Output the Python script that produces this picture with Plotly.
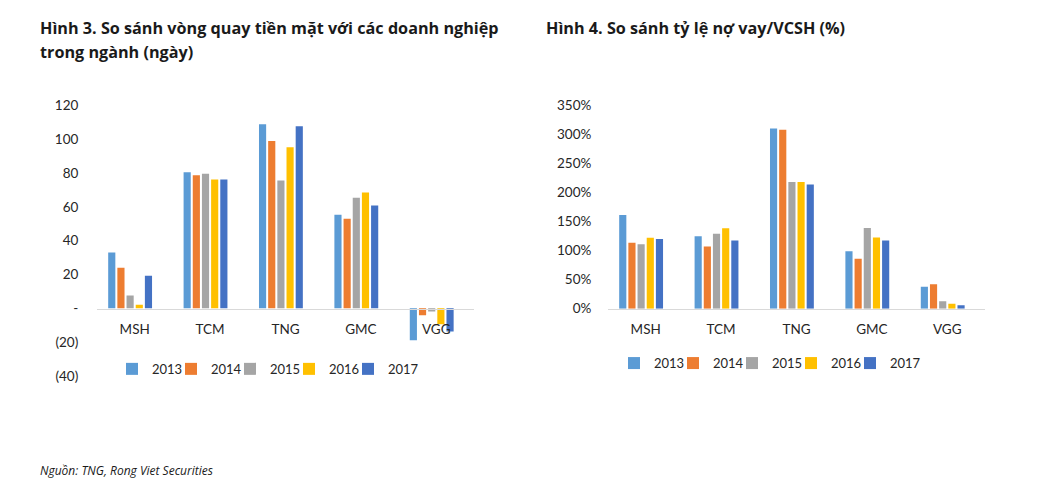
import plotly.graph_objects as go

W, H = 1061, 494

companies = ["MSH", "TCM", "TNG", "GMC", "VGG"]
years = ["2013", "2014", "2015", "2016", "2017"]
colors = ["#5B9BD5", "#ED7D31", "#A5A5A5", "#FFC000", "#4472C4"]

# Figure 3: cash conversion cycle (days)
ccc_2013 = [33, 80.5, 109, 55.3, -19]
ccc_2014 = [24, 78.8, 99, 53, -4.2]
ccc_2015 = [7.6, 79.6, 75.6, 65.5, -1.9]
ccc_2016 = [2.1, 76.3, 95.3, 68.5, -9.5]
ccc_2017 = [19.2, 76.3, 107.8, 60.8, -13.7]
ccc = [ccc_2013, ccc_2014, ccc_2015, ccc_2016, ccc_2017]

# Figure 4: debt / equity (%)
de_2013 = [161, 124.6, 310, 99, 37.7]
de_2014 = [113.5, 106.9, 308, 85.8, 42]
de_2015 = [111, 129, 218, 139, 12.7]
de_2016 = [122, 138.5, 218, 122.4, 8.3]
de_2017 = [120, 117.4, 213.8, 117.4, 6]
de = [de_2013, de_2014, de_2015, de_2016, de_2017]

left_tickvals = [-40, -20, 0, 20, 40, 60, 80, 100, 120]
left_ticktext = ["(40)", "(20)", "-", "20", "40", "60", "80", "100", "120"]
right_tickvals = [0, 50, 100, 150, 200, 250, 300, 350]
right_ticktext = ["0%", "50%", "100%", "150%", "200%", "250%", "300%", "350%"]

FONT = "Lato"
TXT = "#262626"

fig = go.Figure()
for i, y in enumerate(years):
    fig.add_trace(go.Bar(x=companies, y=ccc[i], name=y,
                         marker=dict(color=colors[i], line=dict(width=0)),
                         xaxis="x", yaxis="y", legend="legend"))
# spacer entry so the last legend label is not clipped
fig.add_trace(go.Bar(x=[None], y=[None], name=" ",
                     marker=dict(color="rgba(0,0,0,0)", line=dict(width=0)),
                     xaxis="x", yaxis="y", legend="legend", hoverinfo="skip"))
for i, y in enumerate(years):
    fig.add_trace(go.Bar(x=companies, y=de[i], name=y,
                         marker=dict(color=colors[i], line=dict(width=0)),
                         xaxis="x2", yaxis="y2", legend="legend2"))
fig.add_trace(go.Bar(x=[None], y=[None], name=" ",
                     marker=dict(color="rgba(0,0,0,0)", line=dict(width=0)),
                     xaxis="x2", yaxis="y2", legend="legend2", hoverinfo="skip"))

def py(px):
    return 1 - px / H

def pxx(px):
    return px / W

TICKF = dict(size=13.5, color=TXT)
fig.update_layout(
    width=W, height=H,
    margin=dict(l=0, r=0, t=0, b=0),
    paper_bgcolor="white", plot_bgcolor="white",
    barmode="group", bargap=0.27, bargroupgap=0.22,
    font=dict(family=FONT, size=13, color=TXT),
    xaxis=dict(domain=[pxx(97), pxx(474)], anchor="free", position=py(311),
               showline=True, linecolor="#d9d9d9", linewidth=1,
               ticks="outside", ticklen=8, tickcolor="rgba(0,0,0,0)",
               tickfont=TICKF, showgrid=False),
    yaxis=dict(domain=[py(381), py(100)], range=[-40.5, 120.5], anchor="x",
               tickvals=left_tickvals, ticktext=left_ticktext,
               showgrid=False, zeroline=False, showline=False,
               ticks="outside", ticklen=15, tickcolor="rgba(0,0,0,0)",
               tickfont=TICKF),
    xaxis2=dict(domain=[pxx(608), pxx(985)], anchor="y2",
                showline=True, linecolor="#d9d9d9", linewidth=1,
                ticks="outside", ticklen=8, tickcolor="rgba(0,0,0,0)",
                tickfont=TICKF, showgrid=False),
    yaxis2=dict(domain=[py(310.7), py(100)], range=[0, 351], anchor="x2",
                tickvals=right_tickvals, ticktext=right_ticktext,
                showgrid=False, zeroline=False, showline=False,
                ticks="outside", ticklen=13, tickcolor="rgba(0,0,0,0)",
                tickfont=TICKF),
    legend=dict(orientation="h", x=pxx(112), y=py(373), xanchor="left", yanchor="middle",
                font=dict(size=13, color=TXT), entrywidth=14, entrywidthmode="pixels",
                bgcolor="rgba(0,0,0,0)", traceorder="normal"),
    legend2=dict(orientation="h", x=pxx(614), y=py(367), xanchor="left", yanchor="middle",
                 font=dict(size=13, color=TXT), entrywidth=14, entrywidthmode="pixels",
                 bgcolor="rgba(0,0,0,0)", traceorder="normal"),
)

TFONT = dict(family="Open Sans", size=16.2, color="#1a1a1a")
fig.add_annotation(text="<b>Hình 3. So sánh vòng quay tiền mặt với các doanh nghiệp</b>",
                   x=pxx(38), y=py(21), xref="paper", yref="paper",
                   xanchor="left", yanchor="middle", showarrow=False, font=TFONT)
fig.add_annotation(text="<b>trong ngành (ngày)</b>",
                   x=pxx(38), y=py(45), xref="paper", yref="paper",
                   xanchor="left", yanchor="middle", showarrow=False, font=TFONT)
fig.add_annotation(text="<b>Hình 4. So sánh tỷ lệ nợ vay/VCSH (%)</b>",
                   x=pxx(544), y=py(21), xref="paper", yref="paper",
                   xanchor="left", yanchor="middle", showarrow=False, font=TFONT)
fig.add_annotation(text="<i>Nguồn: TNG, Rong Viet Securities</i>",
                   x=pxx(38), y=py(478), xref="paper", yref="paper",
                   xanchor="left", yanchor="middle", showarrow=False,
                   font=dict(family="Open Sans", size=12, color="#1a1a1a"))

fig.write_html("out.html", config={"displayModeBar": False},
               post_script="document.body.style.margin='0';document.body.style.overflow='hidden';")
